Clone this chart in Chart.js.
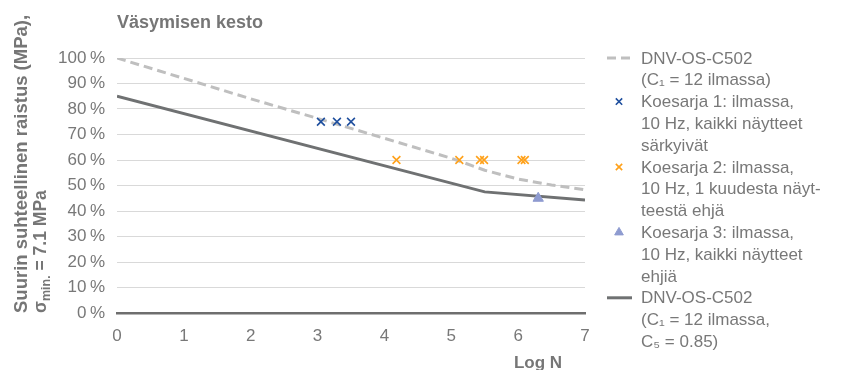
<!DOCTYPE html>
<html>
<head>
<meta charset="utf-8">
<script src="https://cdn.jsdelivr.net/npm/chart.js@4.4.1/dist/chart.umd.min.js"></script>
<style>
  body { margin: 0; background: #fff; }
  #chart { display: block; }
</style>
</head>
<body>
<canvas id="chart" width="854" height="370"></canvas>
<script>
// Fatigue data (log N vs. relative stress range, %)
const dnvLogN = [0, 1, 2, 3, 4, 5, 5.5, 6, 6.5, 7];
const dnvStress = [100, 92, 84, 76.3, 68.5, 60.7, 56, 52.5, 50.2, 48.3];

const dnvC5LogN = [0, 5.5, 7];
const dnvC5Stress = [85, 47.5, 44.3];

const series1LogN = [3.05, 3.29, 3.5];
const series1Stress = [75, 75, 75];

const series2LogN = [4.18, 5.12, 5.43, 5.49, 6.05, 6.1];
const series2Stress = [60, 60, 60, 60, 60, 60];

const series3LogN = [6.3];
const series3Stress = [45];

const xTicks = [0, 1, 2, 3, 4, 5, 6, 7];
const yTicks = [0, 10, 20, 30, 40, 50, 60, 70, 80, 90, 100];

const legendLines = [
    ['DNV-OS-C502', '(C\u2081 = 12 ilmassa)'],
    ['Koesarja 1: ilmassa,', '10 Hz, kaikki näytteet', 'särkyivät'],
    ['Koesarja 2: ilmassa,', '10 Hz, 1 kuudesta näyt-', 'teestä ehjä'],
    ['Koesarja 3: ilmassa,', '10 Hz, kaikki näytteet', 'ehjiä'],
    ['DNV-OS-C502', '(C\u2081 = 12 ilmassa,', 'C\u2085 = 0.85)']
];

const FONT = '"Liberation Sans", Arial, sans-serif';
const TEXT_GREY = '#787878';
const TITLE_GREY = '#767676';

function toPoints(xs, ys) {
    return xs.map((x, i) => ({ x: x, y: ys[i] }));
}

// Custom texts: title, axis titles, legend
const textPlugin = {
    id: 'texts',
    afterDraw(chart) {
        const ctx = chart.ctx;
        ctx.save();
        ctx.fillStyle = TITLE_GREY;
        ctx.textBaseline = 'alphabetic';

        // Chart title
        ctx.font = 'bold 18px ' + FONT;
        ctx.textAlign = 'left';
        ctx.fillText('Väsymisen kesto', 117, 28);

        // X axis title
        ctx.font = 'bold 17px ' + FONT;
        ctx.textAlign = 'center';
        ctx.fillText('Log N', 538, 368);

        // Y axis title (two lines, rotated)
        ctx.textAlign = 'left';
        ctx.save();
        ctx.translate(27, 313);
        ctx.rotate(-Math.PI / 2);
        ctx.font = 'bold 18.5px ' + FONT;
        ctx.fillText('Suurin suhteellinen raistus (MPa),', 0, 0);
        ctx.restore();

        ctx.save();
        ctx.translate(46, 313);
        ctx.rotate(-Math.PI / 2);
        ctx.font = 'bold 17.5px ' + FONT;
        let x = 0;
        ctx.fillText('\u03c3', x, 0);
        x += ctx.measureText('\u03c3').width;
        ctx.font = 'bold 12.5px ' + FONT;
        ctx.fillText('min.', x, 4);
        x += ctx.measureText('min.').width;
        ctx.font = 'bold 17.5px ' + FONT;
        ctx.fillText(' = 7.1 MPa', x, 0);
        ctx.restore();

        // Legend
        const lineH = 21.8;
        const symX = 619;
        const textX = 641;
        let y = 58;
        ctx.font = '17px ' + FONT;
        ctx.textBaseline = 'middle';
        const order = [0, 2, 3, 4, 1];
        order.forEach((dsIndex, i) => {
            const ds = chart.data.datasets[dsIndex];
            drawLegendSymbol(ctx, ds, symX, y);
            ctx.fillStyle = TEXT_GREY;
            legendLines[i].forEach((line) => {
                ctx.fillText(line, textX, y + 1);
                y += lineH;
            });
        });
        ctx.restore();
    }
};

function drawLegendSymbol(ctx, ds, cx, cy) {
    ctx.save();
    ctx.strokeStyle = ds.borderColor;
    ctx.fillStyle = ds.backgroundColor;
    ctx.lineWidth = ds.borderWidth;
    if (ds.type === 'line') {
        ctx.setLineDash(ds.borderDash || []);
        ctx.beginPath();
        ctx.moveTo(cx - 12, cy);
        ctx.lineTo(cx + 13, cy);
        ctx.stroke();
    } else {
        Chart.helpers.drawPoint(ctx, {
            pointStyle: ds.pointStyle,
            radius: ds.pointStyle === 'triangle' ? 5 : 4.5,
            borderWidth: ds.borderWidth
        }, cx, cy);
    }
    ctx.restore();
}

new Chart(document.getElementById('chart'), {
    data: {
        datasets: [
            {
                type: 'line',
                label: 'DNV-OS-C502 (C1 = 12 ilmassa)',
                data: toPoints(dnvLogN, dnvStress),
                borderColor: '#BFBFBF',
                borderWidth: 3,
                borderDash: [9, 5],
                pointRadius: 0,
                tension: 0,
                order: 2
            },
            {
                type: 'line',
                label: 'DNV-OS-C502 (C1 = 12 ilmassa, C5 = 0.85)',
                data: toPoints(dnvC5LogN, dnvC5Stress),
                borderColor: '#6F7172',
                borderWidth: 3,
                pointRadius: 0,
                tension: 0,
                order: 2
            },
            {
                type: 'scatter',
                label: 'Koesarja 1',
                data: toPoints(series1LogN, series1Stress),
                pointStyle: 'crossRot',
                pointRadius: 5.5,
                borderColor: '#1F4F9E',
                backgroundColor: '#1F4F9E',
                borderWidth: 1.6,
                order: 1
            },
            {
                type: 'scatter',
                label: 'Koesarja 2',
                data: toPoints(series2LogN, series2Stress),
                pointStyle: 'crossRot',
                pointRadius: 5.5,
                borderColor: '#FFA11A',
                backgroundColor: '#FFA11A',
                borderWidth: 1.6,
                order: 1
            },
            {
                type: 'scatter',
                label: 'Koesarja 3',
                data: toPoints(series3LogN, series3Stress),
                pointStyle: 'triangle',
                pointRadius: 6,
                borderColor: '#8E9BD0',
                backgroundColor: '#8E9BD0',
                borderWidth: 1,
                order: 1
            }
        ]
    },
    options: {
        responsive: false,
        animation: false,
        devicePixelRatio: 1,
        layout: { padding: { left: 0, top: 58, right: 269, bottom: 0 } },
        plugins: {
            legend: { display: false },
            title: { display: false },
            tooltip: { enabled: false }
        },
        scales: {
            x: {
                type: 'linear',
                min: 0,
                max: 7,
                afterFit(scale) { scale.height = 57; },
                afterBuildTicks(scale) { scale.ticks = xTicks.map(v => ({ value: v })); },
                grid: { display: false, drawTicks: false },
                border: { display: true, color: '#6E6E6E', width: 2.5 },
                ticks: {
                    padding: 13,
                    color: TEXT_GREY,
                    font: { family: FONT, size: 17 }
                }
            },
            y: {
                type: 'linear',
                min: 0,
                max: 100,
                afterFit(scale) { scale.width = 117; },
                afterBuildTicks(scale) { scale.ticks = yTicks.map(v => ({ value: v })); },
                grid: { color: '#D9D9D9', lineWidth: 1, drawTicks: false },
                border: { display: false },
                ticks: {
                    padding: 12,
                    color: TEXT_GREY,
                    font: { family: FONT, size: 17 },
                    callback: (v) => v + '\u2009%'
                }
            }
        }
    },
    plugins: [textPlugin]
});
</script>
</body>
</html>
